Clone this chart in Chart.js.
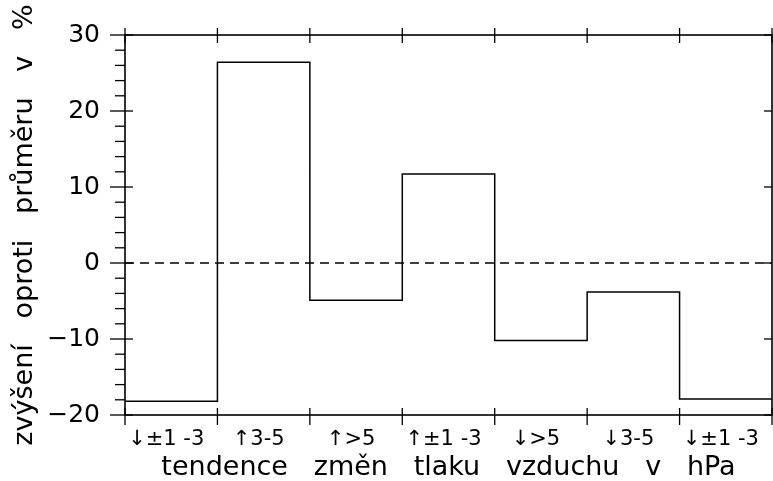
<!DOCTYPE html>
<html>
<head>
<meta charset="utf-8">
<script src="https://cdn.jsdelivr.net/npm/chart.js@4/dist/chart.umd.min.js"></script>
<style>
  html, body { margin: 0; padding: 0; background: #fff; }
</style>
</head>
<body>
<canvas id="chart" width="773" height="481"></canvas>
<script>
// tendence tlaku -> odchylka od průměru (%)
const categories = ['↓±1 -3', '↑3-5', '↑>5', '↑±1 -3', '↓>5', '↓3-5', '↓±1 -3'];
const values = [-18.2, 26.4, -4.9, 11.7, -10.2, -3.8, -17.9];
const yMin = -20;
const yMax = 30;
const yMinorStep = 2;
const yMajorStep = 10;

const FONT = "'DejaVu Sans', sans-serif";

// schody: každá hodnota platí pro celý interval [i, i+1]
const stepPoints = values.map((v, i) => ({ x: i, y: v }));
stepPoints.push({ x: values.length, y: values[values.length - 1] });

const zeroLine = [{ x: 0, y: 0 }, { x: categories.length, y: 0 }];

// rámeček a značky na osách (křížové jako v původním grafu)
const frameTicks = {
  id: 'frameTicks',
  afterDatasetsDraw(chart) {
    const { ctx, chartArea: a, scales } = chart;
    const xs = scales.xv, ys = scales.y;
    const line = (x1, y1, x2, y2) => {
      ctx.beginPath();
      ctx.moveTo(x1, y1);
      ctx.lineTo(x2, y2);
      ctx.stroke();
    };
    ctx.save();
    ctx.strokeStyle = '#000';
    ctx.lineWidth = 1.6;
    ctx.strokeRect(a.left, a.top, a.right - a.left, a.bottom - a.top);
    ctx.lineWidth = 1.3;
    for (let i = 0; i <= categories.length; i++) {
      const x = xs.getPixelForValue(i);
      line(x, a.bottom - 7, x, a.bottom + 10);
      line(x, a.top - 7, x, a.top + 8);
    }
    for (let v = yMin; v <= yMax; v += yMinorStep) {
      const y = ys.getPixelForValue(v);
      const major = v % yMajorStep === 0;
      line(a.left - (major ? 15 : 10), y, a.left + (major ? 8 : 0), y);
      if (major) line(a.right - 8, y, a.right, y);
    }
    ctx.restore();
  }
};

new Chart(document.getElementById('chart'), {
  type: 'line',
  data: {
    datasets: [
      {
        data: stepPoints,
        xAxisID: 'xv',
        stepped: true,
        borderColor: '#000',
        borderWidth: 1.5,
        pointRadius: 0,
        fill: false
      },
      {
        data: zeroLine,
        xAxisID: 'xv',
        borderColor: '#000',
        borderWidth: 1.3,
        borderDash: [9, 6],
        pointRadius: 0,
        fill: false
      }
    ]
  },
  options: {
    responsive: false,
    animation: false,
    layout: { padding: { top: 35, right: 1, left: 0, bottom: 0 } },
    plugins: { legend: { display: false }, tooltip: { enabled: false } },
    scales: {
      xv: { type: 'linear', min: 0, max: categories.length, display: false },
      x: {
        type: 'category',
        labels: categories,
        offset: true,
        position: 'bottom',
        grid: { display: false },
        border: { display: false },
        ticks: {
          autoSkip: false,
          maxRotation: 0,
          padding: 4,
          labelOffset: -5,
          color: '#000',
          font: { family: FONT, size: 21 }
        },
        title: {
          display: true,
          text: 'tendence   změn   tlaku   vzduchu   v   hPa',
          color: '#000',
          font: { family: FONT, size: 27, lineHeight: 1 },
          padding: { top: 0, bottom: 0 }
        },
        afterFit(scale) { scale.height = 66; }
      },
      y: {
        type: 'linear',
        min: yMin,
        max: yMax,
        grid: { display: false },
        border: { display: false },
        ticks: {
          stepSize: yMinorStep,
          autoSkip: false,
          padding: 17,
          color: '#000',
          font: { family: FONT, size: 25 },
          callback: v => v % yMajorStep === 0 ? (v < 0 ? '\u2212' + Math.abs(v) : String(v)) : ''
        },
        title: {
          display: true,
          text: 'zvýšení   oproti   průměru   v   %',
          color: '#000',
          font: { family: FONT, size: 27, lineHeight: 1 },
          padding: { top: 11, bottom: 0 }
        },
        afterFit(scale) { scale.width = 125; }
      }
    }
  },
  plugins: [frameTicks]
});
</script>
</body>
</html>
